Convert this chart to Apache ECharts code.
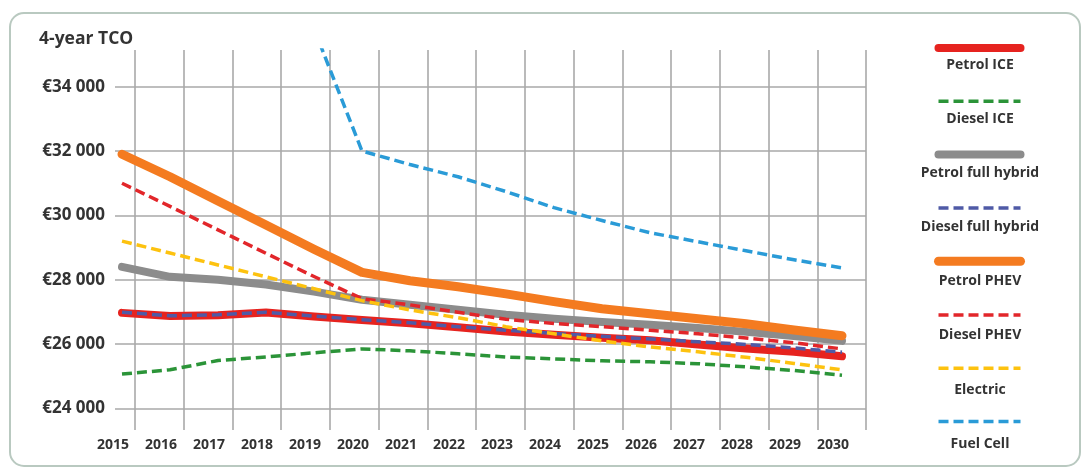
<!DOCTYPE html>
<html>
<head>
<meta charset="utf-8">
<script src="https://cdn.jsdelivr.net/npm/echarts@6/dist/echarts.min.js"></script>
<style>
  html, body { margin: 0; padding: 0; background: #ffffff; }
  #chart { width: 1083px; height: 468px; }
</style>
</head>
<body>
<div id="chart"></div>
<script>
// Four-year total cost of ownership by powertrain, 2015–2030 (EUR)
const years = [2015, 2016, 2017, 2018, 2019, 2020, 2021, 2022, 2023, 2024, 2025, 2026, 2027, 2028, 2029, 2030];
const yTicks = [24000, 26000, 28000, 30000, 32000, 34000];

const petrolIce     = [26970, 26870, 26900, 26980, 26860, 26750, 26650, 26520, 26390, 26290, 26200, 26120, 25990, 25860, 25760, 25620];
const dieselIce     = [25070, 25200, 25490, 25600, 25730, 25850, 25790, 25700, 25600, 25540, 25480, 25450, 25390, 25290, 25180, 25030];
const petrolHybrid  = [28400, 28090, 28000, 27850, 27630, 27380, 27220, 27070, 26910, 26790, 26690, 26600, 26500, 26380, 26250, 26100];
const dieselHybrid  = [26990, 26880, 26910, 26990, 26870, 26760, 26660, 26540, 26430, 26330, 26240, 26160, 26070, 25990, 25880, 25750];
const petrolPhev    = [31900, 31200, 30450, 29700, 28950, 28230, 27970, 27780, 27560, 27320, 27100, 26940, 26790, 26630, 26440, 26260];
const dieselPhev    = [31000, 30280, 29550, 28820, 28100, 27410, 27220, 26990, 26770, 26640, 26540, 26430, 26320, 26190, 26040, 25850];
const electric      = [29200, 28830, 28460, 28090, 27720, 27350, 27060, 26820, 26540, 26320, 26100, 25910, 25760, 25590, 25400, 25200];
const fuelCell      = [null, null, null, null, 35800, 32000, 31580, 31200, 30740, 30240, 29840, 29460, 29180, 28900, 28620, 28370];

// Line styles per powertrain
const DASH = [10, 5];
const styles = [
  { name: 'Petrol ICE',         values: petrolIce,    color: '#e6231f', width: 8,   type: 'solid' },
  { name: 'Diesel ICE',         values: dieselIce,    color: '#2b9438', width: 3.5, type: DASH },
  { name: 'Petrol full hybrid', values: petrolHybrid, color: '#8c8c8c', width: 8,   type: 'solid' },
  { name: 'Diesel full hybrid', values: dieselHybrid, color: '#4f5aa6', width: 3.5, type: DASH },
  { name: 'Petrol PHEV',        values: petrolPhev,   color: '#f47b20', width: 9,   type: 'solid' },
  { name: 'Diesel PHEV',        values: dieselPhev,   color: '#e2262a', width: 3.5, type: DASH },
  { name: 'Electric',           values: electric,     color: '#fdc20f', width: 3.5, type: DASH },
  { name: 'Fuel Cell',          values: fuelCell,     color: '#2a9bd7', width: 3.5, type: DASH }
];

const FONT = '"Open Sans", "Noto Sans", sans-serif';
const TEXT = '#333333';
const GRID_LINE = '#a9a9a9';

const chart = echarts.init(document.getElementById('chart'), null, { renderer: 'canvas' });

const series = styles.map(s => ({
  name: s.name,
  type: 'line',
  xAxisIndex: 0,
  yAxisIndex: 0,
  symbol: 'none',
  smooth: false,
  data: years.map((y, i) => [y, s.values[i]]).filter(p => p[1] !== null),
  lineStyle: {
    color: s.color,
    width: s.width,
    type: s.type,
    cap: s.type === 'solid' ? 'round' : 'butt',
    join: 'round'
  },
  itemStyle: { color: s.color },
  emphasis: { disabled: true }
}));

const names = styles.map(s => s.name);

chart.setOption({
  animation: false,
  backgroundColor: '#ffffff',
  title: {
    text: '4-year TCO',
    left: 34,
    top: 25,
    textStyle: { fontFamily: FONT, fontWeight: 'bold', fontSize: 17.5, color: TEXT }
  },
  graphic: [{
    type: 'rect',
    shape: { x: 10, y: 13, width: 1070, height: 453, r: 14 },
    style: { fill: 'none', stroke: '#b9c9c0', lineWidth: 2 },
    silent: true,
    z: -1
  }],
  grid: { left: 115, right: 217, top: 50, bottom: 38, containLabel: false },
  xAxis: [
    {
      // data axis: one unit per year
      type: 'value',
      min: 2015 - 7 / 48,
      max: 2015 + 744 / 48,
      axisLine: { show: false },
      axisTick: { show: false, customValues: years },
      splitLine: { show: false },
      axisLabel: {
        customValues: years,
        formatter: v => String(Math.round(v)),
        fontFamily: FONT, fontWeight: 'bold', fontSize: 14, color: TEXT,
        margin: 8,
        padding: [0, 18, 0, 0]
      }
    },
    {
      // vertical grid lines
      type: 'value',
      min: -20 / 48.73,
      max: 15,
      axisLine: { show: false },
      axisTick: { show: false, customValues: years.map((y, i) => i) },
      axisLabel: { show: false },
      splitLine: { show: true, lineStyle: { color: GRID_LINE, width: 1.6 } }
    }
  ],
  yAxis: {
    type: 'value',
    min: 23330,
    max: 35140,
    axisLine: { show: false },
    axisTick: { show: false, customValues: yTicks },
    axisLabel: {
      customValues: yTicks,
      formatter: v => '€' + Math.round(v / 1000) + ' 000',
      fontFamily: FONT, fontWeight: 'bold', fontSize: 17, color: TEXT,
      margin: 10
    },
    splitLine: { show: true, lineStyle: { color: GRID_LINE, width: 1.6 } }
  },
  legend: [
    {
      // line samples
      data: names,
      orient: 'vertical',
      left: 934,
      top: 43,
      padding: 0,
      itemWidth: 82,
      itemHeight: 10,
      itemGap: 44.3,
      selectedMode: false,
      formatter: () => '',
      itemStyle: { opacity: 0, borderWidth: 0 },
      lineStyle: { width: 'inherit' },
      textStyle: { fontSize: 1 }
    },
    {
      // captions under each sample
      data: names,
      orient: 'vertical',
      left: 890,
      top: 58,
      padding: 0,
      icon: 'rect',
      itemWidth: 0,
      itemHeight: 14,
      itemGap: 40.1,
      selectedMode: false,
      itemStyle: { color: 'rgba(0,0,0,0)', opacity: 0, borderWidth: 0 },
      formatter: name => '{t|' + name + '}',
      textStyle: {
        lineHeight: 14,
        rich: {
          t: { width: 170, align: 'center', fontFamily: FONT, fontWeight: 'bold', fontSize: 14, color: TEXT, lineHeight: 14 }
        }
      }
    }
  ],
  series: series
});
</script>
</body>
</html>
